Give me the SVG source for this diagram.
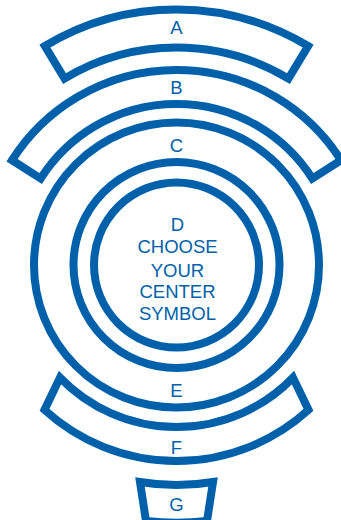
<svg xmlns="http://www.w3.org/2000/svg" width="341" height="520" viewBox="0 0 341 520">
<style>
.s{fill:none;stroke:#0061aa;stroke-width:8;stroke-linejoin:miter;stroke-miterlimit:10}
.t{fill:#0061aa;font-family:"Liberation Sans",Arial,sans-serif;font-size:18.5px;text-anchor:middle}
</style>
<rect width="341" height="520" fill="#ffffff"/>
<g id="A">
<path class="s" d="M44.9,46 A255.5,255.5 0 0 1 308.1,46 L288.5,78.6 A217.5,217.5 0 0 0 64.5,78.6 Z"/>
<text class="t" x="176.5" y="34.3">A</text>
</g>
<g id="B">
<path class="s" d="M12,160.2 A195,195 0 0 1 341,160.2 L312.3,178.5 A161,161 0 0 0 40.7,178.5 Z"/>
<text class="t" x="176.5" y="94.3">B</text>
</g>
<g id="C">
<circle class="s" cx="176.5" cy="265" r="142.5"/>
<text class="t" x="176.5" y="151.7">C</text>
</g>
<g id="E">
<circle class="s" cx="176.5" cy="265" r="103"/>
<text class="t" x="176.5" y="397.3">E</text>
</g>
<g id="D">
<circle class="s" cx="176.5" cy="265" r="82.5"/>
<text class="t" x="177.5" y="230.7">D</text>
<text class="t" x="177.5" y="253.3">CHOOSE</text>
<text class="t" x="177.5" y="276.7">YOUR</text>
<text class="t" x="177.5" y="298.3">CENTER</text>
<text class="t" x="177.5" y="320">SYMBOL</text>
</g>
<g id="F">
<path class="s" d="M60,377.6 A162,162 0 0 0 293,377.6 L308.5,409.9 A196,196 0 0 1 44.5,409.9 Z"/>
<text class="t" x="176.5" y="454.3">F</text>
</g>
<g id="G">
<path class="s" d="M140,482 A220,220 0 0 0 213,482 L207,521 A257.8,257.8 0 0 1 146,521 Z"/>
<text class="t" x="176.5" y="511">G</text>
</g>
<g id="connectors"></g>
</svg>
